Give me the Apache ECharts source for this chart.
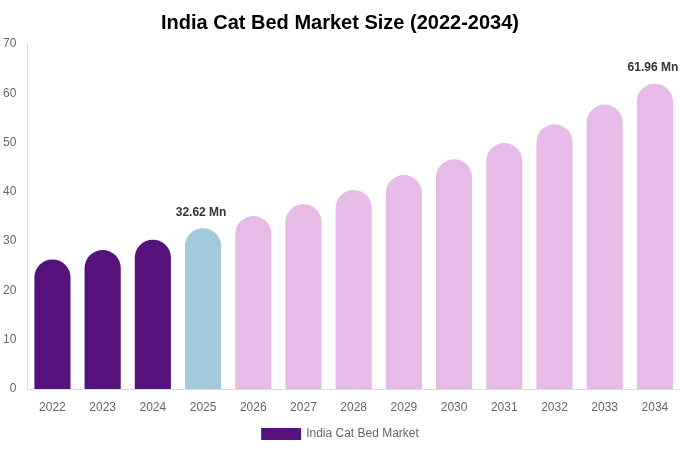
<!DOCTYPE html>
<html><head><meta charset="utf-8">
<script src="https://cdn.jsdelivr.net/npm/echarts@6/dist/echarts.min.js"></script>
<style>html,body{margin:0;padding:0;background:#fff}#c{width:680px;height:450px}</style>
</head><body><div id="c"></div>
<script>
const years = ['2022','2023','2024','2025','2026','2027','2028','2029','2030','2031','2032','2033','2034'];
const values = [26.3, 28.2, 30.3, 32.62, 35.1, 37.5, 40.4, 43.4, 46.6, 49.9, 53.7, 57.7, 61.96];
const barColors = ['#54127a','#54127a','#54127a','#a3c9dd','#e6bbe8','#e6bbe8','#e6bbe8','#e6bbe8','#e6bbe8','#e6bbe8','#e6bbe8','#e6bbe8','#e6bbe8'];
const labeledYears = ['2025','2034'];
const yTicks = {min: 0, max: 70, interval: 10};

const chart = echarts.init(document.getElementById('c'));
chart.setOption({
  animation: false,
  title: {text: 'India Cat Bed Market Size (2022-2034)', left: 'center', top: 8,
    textStyle: {fontFamily: 'Liberation Sans, Arial, sans-serif', fontSize: 20, fontWeight: 'bold', color: '#000'}},
  legend: {bottom: 5, itemWidth: 40, itemHeight: 12, icon: 'rect',
    textStyle: {fontFamily: 'Liberation Sans, Arial, sans-serif', fontSize: 12, color: '#666'},
    data: [{name: 'India Cat Bed Market', itemStyle: {color: '#54127a'}}]},
  grid: {left: 27, right: 0, top: 44, bottom: 61},
  xAxis: {type: 'category', data: years,
    axisLine: {lineStyle: {color: '#ddd'}}, axisTick: {show: false},
    axisLabel: {color: '#666', fontSize: 12, fontFamily: 'Liberation Sans, Arial, sans-serif', margin: 13}},
  yAxis: {type: 'value', min: yTicks.min, max: yTicks.max, interval: yTicks.interval,
    axisLine: {show: true, lineStyle: {color: '#ddd'}}, splitLine: {show: false},
    axisLabel: {color: '#666', fontSize: 12, fontFamily: 'Liberation Sans, Arial, sans-serif', margin: 11}},
  series: [{
    name: 'India Cat Bed Market', type: 'bar', barWidth: '72%',
    data: values.map((v, i) => ({
      value: v,
      itemStyle: {color: barColors[i], borderRadius: [18, 18, 0, 0]},
      label: {show: labeledYears.includes(years[i]), position: 'top', distance: 10, offset: [-2, 0],
        formatter: v.toFixed(2) + ' Mn', fontWeight: 'bold', fontSize: 12, color: '#333',
        fontFamily: 'Liberation Sans, Arial, sans-serif'}
    }))
  }]
});
</script></body></html>
